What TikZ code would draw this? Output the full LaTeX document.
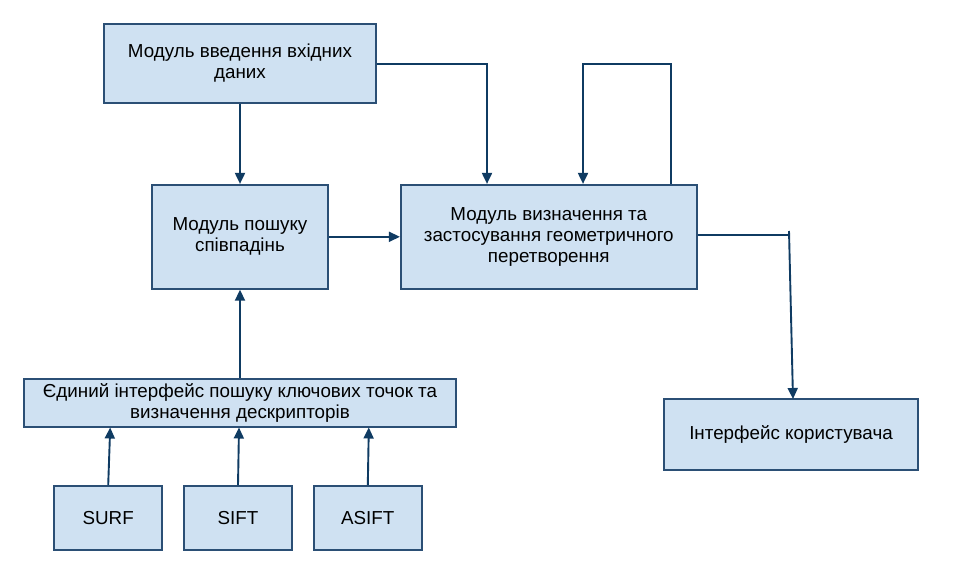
\documentclass[tikz,border=0pt]{standalone}
\usepackage{fontspec}
\setmainfont{Liberation Sans}
\usetikzlibrary{arrows.meta,positioning}

\definecolor{boxfill}{HTML}{CFE1F2}
\definecolor{boxline}{HTML}{2B4F75}
\definecolor{wire}{HTML}{0F3B62}

\begin{document}
\begin{tikzpicture}[x=1pt,y=-1pt,>={Triangle[length=11pt,width=10pt]},
  block/.style={draw=boxline,line width=1.8pt,fill=boxfill,align=center,inner sep=0pt,
    font=\fontsize{18.8}{21}\selectfont},
  wireline/.style={draw=wire,line width=1.9pt}]
  \useasboundingbox (0,0) rectangle (955,583);

  \node[block,minimum width=272pt,minimum height=79pt] (input) at (240,63.5)
    {Модуль введення вхідних\\даних};
  \node[block,minimum width=176pt,minimum height=104pt,below=80pt of input] (match)
    {Модуль пошуку\\співпадінь};
  \node[block,minimum width=296pt,minimum height=104pt,right=71pt of match] (geom)
    {Модуль визначення та\\застосування геометричного\\перетворення};
  \node[block,minimum width=432pt,minimum height=48pt,below=88pt of match] (iface)
    {Єдиний інтерфейс пошуку ключових точок та\\визначення дескрипторів};
  \node[block,minimum width=108pt,minimum height=64pt] (sift) at (238,518) {SIFT};
  \node[block,minimum width=108pt,minimum height=64pt,left=20pt of sift] (surf) {SURF};
  \node[block,minimum width=108pt,minimum height=64pt,right=20pt of sift] (asift) {ASIFT};
  \node[block,minimum width=254pt,minimum height=71pt] (user) at (791,434.5)
    {Інтерфейс користувача};

  \coordinate (c1) at (487,64);
  \coordinate (c2) at (671,64);
  \coordinate (c3) at (583,64);
  \coordinate (c4) at (790,235);
  \coordinate (c5) at (789,231);

  \draw[wireline,->] (input) -- (match);
  \draw[wireline,->] (input.east |- c1) -- (c1) -- (c1 |- geom.north);
  \draw[wireline,->] (c2 |- geom.north) -- (c2) -- (c3) -- (c3 |- geom.north);
  \draw[wireline,->] (match) -- (geom);
  \draw[wireline] (geom.east |- c4) -- (c4);
  \draw[wireline,->] (c5) -- (793,399);
  \draw[wireline,->] (iface) -- (match);
  \foreach \src/\dx in {surf/2,sift/1,asift/1}
    \draw[wireline,->] (\src.north) -- ([xshift=\dx pt]\src.north |- iface.south);
\end{tikzpicture}
\end{document}
